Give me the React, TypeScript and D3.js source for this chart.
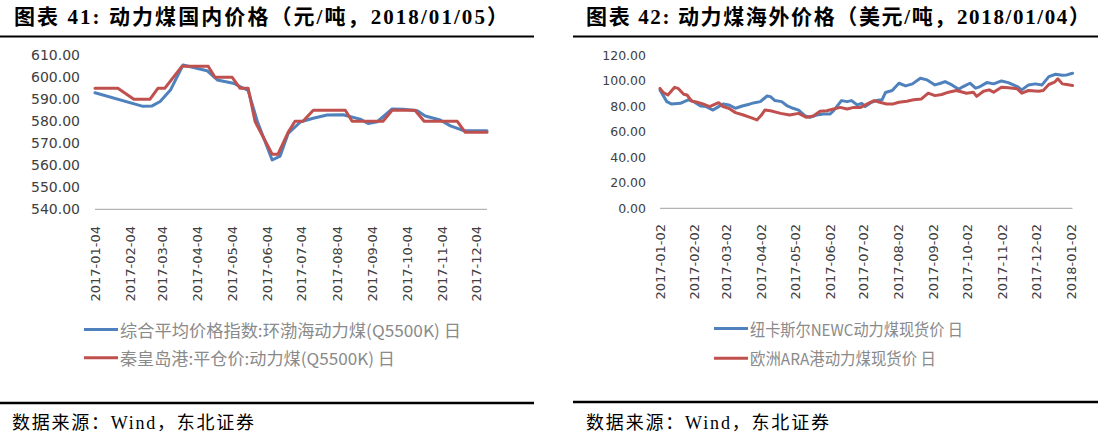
import React from 'react';
import * as d3 from 'd3';

// ---------- Left chart data (元/吨) ----------
const leftTickLabels = ["2017-01-04","2017-02-04","2017-03-04","2017-04-04","2017-05-04","2017-06-04","2017-07-04","2017-08-04","2017-09-04","2017-10-04","2017-11-04","2017-12-04"];
const leftYTicks = [540, 550, 560, 570, 580, 590, 600, 610];
const leftSeriesNames = ["综合平均价格指数:环渤海动力煤(Q5500K) 日", "秦皇岛港:平仓价:动力煤(Q5500K) 日"];
const leftBlueDates = ["2017-01-04","2017-02-15","2017-02-23","2017-03-02","2017-03-11","2017-03-22","2017-04-12","2017-04-21","2017-05-05","2017-05-18","2017-05-26","2017-06-08","2017-06-15","2017-06-22","2017-07-03","2017-07-14","2017-07-26","2017-08-09","2017-08-24","2017-08-31","2017-09-08","2017-09-21","2017-10-01","2017-10-13","2017-10-20","2017-11-02","2017-11-11","2017-11-23","2017-12-13"];
const leftBlueValues = [593.0,586.8,587.0,589.0,594.2,605.6,603.0,598.8,597.3,594.0,580.0,562.4,564.2,574.5,579.8,581.4,582.9,583.0,581.0,579.0,579.8,585.6,585.5,584.8,582.4,580.6,577.9,575.7,575.7];
const leftRedDates = ["2017-01-04","2017-01-24","2017-02-07","2017-02-21","2017-02-28","2017-03-06","2017-03-21","2017-04-13","2017-04-19","2017-05-04","2017-05-11","2017-05-18","2017-05-24","2017-06-08","2017-06-13","2017-06-22","2017-06-28","2017-07-05","2017-07-14","2017-08-11","2017-08-17","2017-09-13","2017-09-21","2017-10-11","2017-10-19","2017-11-17","2017-11-24","2017-12-13"];
const leftRedValues = [595,595,590,590,595,595,605,605,600,600,595,595,580,565,565,575,580,580,585,585,580,580,585,585,580,580,575,575];

// ---------- Right chart data (美元/吨) ----------
const rightTickLabels = ["2017-01-02","2017-02-02","2017-03-02","2017-04-02","2017-05-02","2017-06-02","2017-07-02","2017-08-02","2017-09-02","2017-10-02","2017-11-02","2017-12-02","2018-01-02"];
const rightYTicks = [0, 20, 40, 60, 80, 100, 120];
const rightSeriesNames = ["纽卡斯尔NEWC动力煤现货价 日", "欧洲ARA港动力煤现货价 日"];
const rightBlueDates = ["2017-01-02","2017-01-08","2017-01-12","2017-01-20","2017-01-27","2017-02-01","2017-02-07","2017-02-12","2017-02-18","2017-02-23","2017-02-27","2017-03-04","2017-03-10","2017-03-16","2017-03-23","2017-03-27","2017-04-01","2017-04-07","2017-04-10","2017-04-14","2017-04-20","2017-04-25","2017-04-30","2017-05-05","2017-05-11","2017-05-15","2017-05-21","2017-05-27","2017-06-02","2017-06-05","2017-06-12","2017-06-17","2017-06-21","2017-06-26","2017-06-30","2017-07-03","2017-07-08","2017-07-13","2017-07-18","2017-07-21","2017-07-27","2017-08-02","2017-08-08","2017-08-14","2017-08-21","2017-08-27","2017-09-03","2017-09-08","2017-09-12","2017-09-18","2017-09-24","2017-09-28","2017-10-04","2017-10-09","2017-10-13","2017-10-19","2017-10-25","2017-11-01","2017-11-07","2017-11-15","2017-11-19","2017-11-25","2017-12-01","2017-12-07","2017-12-13","2017-12-19","2017-12-25","2017-12-29","2018-01-03"];
const rightBlueValues = [92.6,83.5,81.7,82.2,84.9,83.5,80.1,79.6,76.9,79.6,81.7,80.9,78.3,80.1,81.7,82.7,83.5,87.9,87.4,84.3,83.5,80.1,78.3,76.9,72.2,71.2,73.0,73.8,73.8,76.4,84.3,83.5,84.3,80.9,82.2,79.6,82.7,84.3,84.9,90.6,92.2,97.9,95.8,97.4,101.8,100.5,96.6,97.9,99.2,96.6,93.2,95.3,97.9,94.0,95.3,98.4,97.4,99.7,98.4,95.3,92.7,96.6,97.4,96.6,103.1,104.9,104.1,104.4,105.7];
const rightRedDates = ["2017-01-02","2017-01-05","2017-01-09","2017-01-15","2017-01-18","2017-01-23","2017-01-26","2017-01-30","2017-02-04","2017-02-09","2017-02-15","2017-02-23","2017-02-27","2017-03-04","2017-03-10","2017-03-17","2017-03-23","2017-03-29","2017-04-02","2017-04-05","2017-04-10","2017-04-19","2017-04-27","2017-05-05","2017-05-12","2017-05-18","2017-05-24","2017-05-30","2017-06-05","2017-06-11","2017-06-17","2017-06-23","2017-06-29","2017-07-05","2017-07-11","2017-07-16","2017-07-22","2017-07-28","2017-08-02","2017-08-09","2017-08-15","2017-08-22","2017-08-28","2017-09-03","2017-09-09","2017-09-15","2017-09-22","2017-10-01","2017-10-07","2017-10-10","2017-10-16","2017-10-21","2017-10-25","2017-11-01","2017-11-07","2017-11-15","2017-11-19","2017-11-25","2017-12-04","2017-12-08","2017-12-13","2017-12-18","2017-12-21","2017-12-25","2017-12-29","2018-01-03"];
const rightRedValues = [93.9,90.5,88.7,94.7,93.9,89.2,88.7,84.0,83.0,81.7,79.6,82.7,79.6,78.3,74.9,73.0,71.2,69.2,73.0,76.9,76.4,74.3,73.0,74.3,71.2,72.2,75.9,76.4,77.7,79.0,77.7,79.0,79.0,81.7,84.3,83.0,81.7,81.7,83.0,83.8,84.9,85.6,90.1,88.2,89.1,90.9,92.2,90.1,90.9,87.6,91.6,92.7,90.9,94.8,94.3,93.5,90.1,92.2,91.6,92.2,96.9,98.7,101.4,97.4,96.9,96.1];

const titles = ["图表 41: 动力煤国内价格（元/吨，2018/01/05）", "图表 42: 动力煤海外价格（美元/吨，2018/01/04）"];
const sourceText = "数据来源：Wind，东北证券";

const BLUE = '#4f81bd';
const RED = '#c0504d';
const parse = d3.timeParse('%Y-%m-%d');

type PanelProps = {
  xRange: [number, number];
  yRange: [number, number];
  domainX: [string, string];
  domainY: [number, number];
  yTicks: number[];
  tickLabels: string[];
  series: { dates: string[]; values: number[]; color: string; name: string; legendW: number }[];
  yLabelRight: number;
  yFont: number;
  xFont: number;
  xLabelTop: number;
  legendX: number;
  legendY: number[];
};

function Panel(p: PanelProps) {
  const x = d3.scaleTime().domain([parse(p.domainX[0])!, parse(p.domainX[1])!]).range(p.xRange);
  const y = d3.scaleLinear().domain(p.domainY).range(p.yRange);
  const line = d3.line<[Date, number]>().x(d => x(d[0])).y(d => y(d[1]));
  return (
    <g>
      <line x1={p.xRange[0]} x2={p.xRange[1]} y1={y(p.domainY[0])} y2={y(p.domainY[0])} stroke="#b3b3b3" strokeWidth={1.2} />
      {p.yTicks.map(t => (
        <text key={t} x={p.yLabelRight} y={y(t)} textAnchor="end" dominantBaseline="central"
          fontFamily="'DejaVu Sans', sans-serif" fontSize={p.yFont} fill="#404040">{t.toFixed(2)}</text>
      ))}
      {p.tickLabels.map(t => (
        <text key={t} transform={`translate(${x(parse(t)!)},${p.xLabelTop}) rotate(-90)`} textAnchor="end"
          dominantBaseline="central" fontFamily="'DejaVu Sans', sans-serif" fontSize={p.xFont} fill="#404040">{t}</text>
      ))}
      {p.series.map(s => (
        <path key={s.name} d={line(s.dates.map((d, i) => [parse(d)!, s.values[i]] as [Date, number])) || ''}
          fill="none" stroke={s.color} strokeWidth={3} strokeLinejoin="round" strokeLinecap="round" />
      ))}
      {p.series.map((s, i) => (
        <g key={'lg' + i}>
          <line x1={p.legendX} x2={p.legendX + 34} y1={p.legendY[i]} y2={p.legendY[i]} stroke={s.color} strokeWidth={3} />
          <text x={p.legendX + 36} y={p.legendY[i]} dominantBaseline="central" textLength={s.legendW} lengthAdjust="spacingAndGlyphs"
            fontFamily="'Noto Sans CJK SC', 'DejaVu Sans', sans-serif" fontSize={16.5} fill="#8a8a8a">{s.name}</text>
        </g>
      ))}
    </g>
  );
}

export default function App() {
  return (
    <svg width={1098} height={433} style={{ position: 'absolute', left: 0, top: 0, background: '#fff' }}>
      <rect width={1098} height={433} fill="#fff" />
      {/* titles */}
      <text x={14} y={17} dominantBaseline="central" fontFamily="'Liberation Serif', 'Noto Sans CJK SC', serif"
        fontWeight="bold" fontSize={21} textLength={494} lengthAdjust="spacing" fill="#000">{titles[0]}</text>
      <text x={586} y={17} dominantBaseline="central" fontFamily="'Liberation Serif', 'Noto Sans CJK SC', serif"
        fontWeight="bold" fontSize={21} textLength={504} lengthAdjust="spacing" fill="#000">{titles[1]}</text>
      <line x1={0} x2={534} y1={36.5} y2={36.5} stroke="#000" strokeWidth={2} />
      <line x1={573} x2={1098} y1={36.5} y2={36.5} stroke="#000" strokeWidth={2} />

      <Panel xRange={[95, 487]} yRange={[209.3, 55.3]} domainX={["2017-01-04", "2017-12-13"]}
        domainY={[540, 610]} yTicks={leftYTicks} tickLabels={leftTickLabels}
        series={[
          { dates: leftBlueDates, values: leftBlueValues, color: BLUE, name: leftSeriesNames[0], legendW: 341 },
          { dates: leftRedDates, values: leftRedValues, color: RED, name: leftSeriesNames[1], legendW: 275 },
        ]}
        yLabelRight={80} yFont={14} xFont={13} xLabelTop={226} legendX={84} legendY={[329.5, 357.8]} />

      <Panel xRange={[660, 1072.5]} yRange={[208.3, 55]} domainX={["2017-01-02", "2018-01-03"]}
        domainY={[0, 120]} yTicks={rightYTicks} tickLabels={rightTickLabels}
        series={[
          { dates: rightBlueDates, values: rightBlueValues, color: BLUE, name: rightSeriesNames[0], legendW: 213 },
          { dates: rightRedDates, values: rightRedValues, color: RED, name: rightSeriesNames[1], legendW: 186 },
        ]}
        yLabelRight={646} yFont={12.5} xFont={13} xLabelTop={224} legendX={714} legendY={[328.5, 358.3]} />

      {/* footer */}
      <line x1={0} x2={534} y1={403} y2={403} stroke="#000" strokeWidth={2.5} />
      <line x1={573} x2={1098} y1={402} y2={402} stroke="#000" strokeWidth={2.5} />
      <text x={12} y={423} dominantBaseline="central" fontFamily="'Liberation Serif', 'Noto Sans CJK SC', serif"
        fontSize={18} textLength={242} lengthAdjust="spacing" fill="#000">{sourceText}</text>
      <text x={586} y={423} dominantBaseline="central" fontFamily="'Liberation Serif', 'Noto Sans CJK SC', serif"
        fontSize={18} textLength={243} lengthAdjust="spacing" fill="#000">{sourceText}</text>
    </svg>
  );
}
